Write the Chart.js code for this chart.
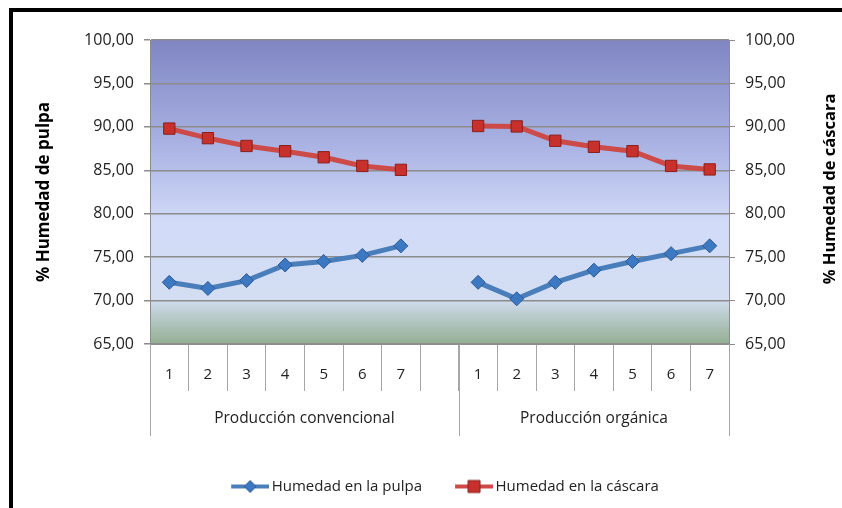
<!DOCTYPE html>
<html>
<head>
<meta charset="utf-8">
<script src="https://cdn.jsdelivr.net/npm/chart.js@4/dist/chart.umd.min.js"></script>
<style>
  html, body { margin: 0; padding: 0; background: #fff; }
  #wrap { position: relative; width: 842px; height: 508px; }
  #frame { position: absolute; left: 9px; top: 8px; right: 0; bottom: 0; border-top: 4px solid #000; border-left: 4px solid #000; pointer-events: none; }
</style>
</head>
<body>
<div id="wrap">
  <canvas id="chart" width="842" height="508"></canvas>
  <div id="frame"></div>
</div>
<script>
// categories: 7 samples per production type, empty slot between groups
const labels = ["1","2","3","4","5","6","7","","1","2","3","4","5","6","7"];
const groups = ["Producción convencional", "Producción orgánica"];

const pulpa   = [72.1, 71.4, 72.3, 74.1, 74.5, 75.2, 76.3, null, 72.1, 70.2, 72.1, 73.5, 74.5, 75.4, 76.3];
const cascara = [89.8, 88.7, 87.8, 87.2, 86.5, 85.5, 85.05, null, 90.1, 90.05, 88.4, 87.7, 87.2, 85.5, 85.1];

const yMin = 65, yMax = 100, yStep = 5;
const fmt = v => v.toFixed(2).replace(".", ",");

const font = "'Open Sans', 'Noto Sans', sans-serif";

// legend swatch: line with marker in middle (transparent lead-in gives the item gap)
function swatch(color, fill, border, shape) {
  const c = document.createElement("canvas");
  c.width = 63; c.height = 16;
  const g = c.getContext("2d");
  g.strokeStyle = color; g.lineWidth = 4;
  g.beginPath(); g.moveTo(25, 8); g.lineTo(63, 8); g.stroke();
  g.fillStyle = fill; g.strokeStyle = border; g.lineWidth = 1;
  g.beginPath();
  if (shape === "diamond") { g.moveTo(44, 2); g.lineTo(50, 8); g.lineTo(44, 14); g.lineTo(38, 8); g.closePath(); }
  else { g.rect(38, 2, 12, 12); }
  g.fill(); g.stroke();
  return c;
}

const plotBg = {
  id: "plotBg",
  beforeDraw(chart) {
    const { ctx, chartArea: a } = chart;
    const gr = ctx.createLinearGradient(0, a.top, 0, a.bottom);
    gr.addColorStop(0, "#7f86c3");
    gr.addColorStop(0.35, "#aab3e3");
    gr.addColorStop(0.6, "#d2dbf8");
    gr.addColorStop(0.85, "#d3def2");
    gr.addColorStop(0.9, "#bccdd0");
    gr.addColorStop(1, "#94af93");
    ctx.save();
    ctx.fillStyle = gr;
    ctx.fillRect(a.left, a.top, a.right - a.left, a.bottom - a.top);
    ctx.restore();
  }
};

const groupAxis = {
  id: "groupAxis",
  afterDraw(chart) {
    const { ctx, chartArea: a, scales } = chart;
    const x = scales.x;
    const half = (x.getPixelForValue(1) - x.getPixelForValue(0)) / 2;
    const edges = [x.getPixelForValue(0) - half, x.getPixelForValue(8) - half, x.getPixelForValue(14) + half];
    ctx.save();
    ctx.strokeStyle = "#a6a6a6"; ctx.lineWidth = 1;
    edges.forEach(e => {
      const px = Math.round(e) + 0.5;
      ctx.beginPath(); ctx.moveTo(px, a.bottom); ctx.lineTo(px, a.bottom + 92); ctx.stroke();
    });
    ctx.fillStyle = "#222"; ctx.font = "15.5px " + font;
    ctx.textAlign = "center"; ctx.textBaseline = "middle";
    groups.forEach((g, i) => ctx.fillText(g, (edges[i] + edges[i + 1]) / 2, a.bottom + 75));
    // right axis title, reading bottom to top
    ctx.font = "bold 16.5px " + font;
    ctx.translate(830, (a.top + a.bottom) / 2 - 3);
    ctx.rotate(-Math.PI / 2);
    ctx.fillStyle = "#000";
    ctx.fillText("% Humedad de cáscara", 0, 0);
    ctx.restore();
  }
};

new Chart(document.getElementById("chart"), {
  type: "line",
  data: {
    labels,
    datasets: [
      { label: "Humedad en la pulpa", data: pulpa, yAxisID: "y",
        borderColor: "#4a7ebb", borderWidth: 5, pointStyle: "rectRot", pointRadius: 7,
        pointBackgroundColor: "#3d78c2", pointBorderColor: "#2a5a94", pointBorderWidth: 1, tension: 0 },
      { label: "Humedad en la cáscara", data: cascara, yAxisID: "y",
        borderColor: "#cc4a47", borderWidth: 5, pointStyle: "rect", pointRadius: 8,
        pointBackgroundColor: "#c8302c", pointBorderColor: "#8b1f1c", pointBorderWidth: 1, tension: 0 }
    ]
  },
  options: {
    responsive: false, animation: false, spanGaps: false,
    layout: { padding: { left: 28, right: 0, top: 40, bottom: 4 } },
    plugins: {
      tooltip: { enabled: false },
      legend: {
        position: "bottom",
        labels: {
          usePointStyle: true, pointStyleWidth: 53, padding: 13, color: "#222",
          font: { family: font, size: 15 },
          generateLabels: chart => chart.data.datasets.map((d, i) => ({
            text: d.label, datasetIndex: i, fontColor: "#222", lineWidth: 0,
            pointStyle: i === 0 ? swatch("#4a7ebb", "#3d78c2", "#2a5a94", "diamond") : swatch("#cc4a47", "#c8302c", "#8b1f1c", "square")
          }))
        }
      }
    },
    scales: {
      x: {
        offset: true,
        grid: { offset: true, drawOnChartArea: false, tickLength: 47, color: "#a6a6a6" },
        border: { color: "#8c8c8c" },
        ticks: { padding: -25, color: "#222", font: { family: font, size: 15 }, maxRotation: 0, autoSkip: false },
        afterFit: s => { s.height = 122; }
      },
      y: {
        position: "left", min: yMin, max: yMax,
        ticks: { stepSize: yStep, padding: 10, color: "#222", font: { family: font, size: 16 }, callback: fmt },
        grid: { color: "#8c8c8c", lineWidth: 1.5, tickLength: 6 },
        border: { color: "#8c8c8c" },
        title: { display: true, text: "% Humedad de pulpa", color: "#000", font: { family: font, size: 17, weight: "bold" }, padding: { top: 6, bottom: 0 } },
        afterFit: s => { s.width = 122; }
      },
      y2: {
        position: "right", min: yMin, max: yMax,
        ticks: { stepSize: yStep, padding: 10, color: "#222", font: { family: font, size: 16 }, callback: fmt },
        grid: { drawOnChartArea: false, color: "#8c8c8c", tickLength: 6 },
        border: { color: "#8c8c8c" },
        afterFit: s => { s.width = 113; }
      }
    }
  },
  plugins: [plotBg, groupAxis]
});
</script>
</body>
</html>
